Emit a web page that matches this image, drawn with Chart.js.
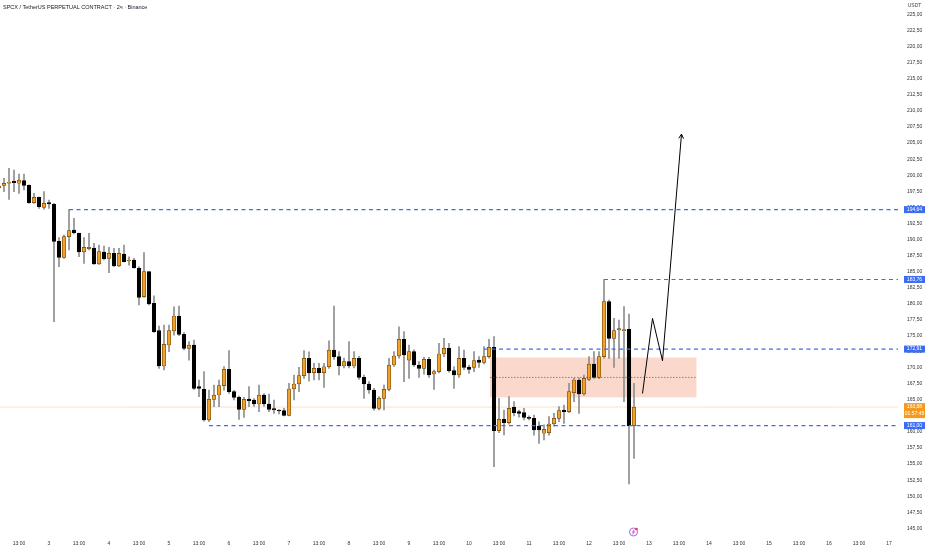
<!DOCTYPE html>
<html>
<head>
<meta charset="utf-8">
<script src="https://cdn.jsdelivr.net/npm/chart.js@4.4.1/dist/chart.umd.min.js"></script>
<style>
  html, body { margin: 0; padding: 0; background: #fff; }
</style>
</head>
<body>
<canvas id="chart" width="932" height="550"></canvas>
<script>
// 2h candles, index 0 = first (half hidden) candle on the left
const openP = [198.0, 198.42, 198.74, 199.05, 198.74, 199.15, 198.42, 195.72, 196.55, 194.99,
  195.72, 195.46, 189.7, 187.2, 190.43, 191.47, 190.95, 188.04, 188.56, 188.66,
  186.17, 188.04, 187.05, 187.83, 185.86, 187.73, 186.64, 186.79, 185.5, 181.08,
  184.98, 180.04, 175.79, 170.28, 173.55, 175.74, 178.07, 175.21, 173.03, 173.55,
  167.06, 166.65, 161.87, 165.09, 165.76, 167.22, 169.76, 166.28, 165.4, 163.53,
  165.14, 164.98, 164.36, 165.76, 164.36, 163.63, 163.43, 163.32, 162.6, 166.7,
  167.48, 168.77, 171.47, 169.24, 169.9, 169.24, 170.17, 172.77, 171.73, 170.28,
  170.95, 170.28, 171.47, 168.51, 167.48, 166.54, 163.69, 165.24, 166.65, 170.43,
  171.84, 174.43, 171.2, 172.51, 170.43, 169.9, 171.32, 169.03, 169.4, 172.15,
  173.03, 169.55, 168.88, 171.47, 170.07, 170.07, 171.21, 170.85, 171.73, 173.19,
  160.21, 161.97, 161.45, 163.84, 163.17, 163.02, 162.29, 162.13, 160.94, 159.8,
  159.9, 161.25, 162.13, 163.43, 163.17, 166.12, 168.1, 165.92, 168.2, 170.59,
  168.51, 171.73, 180.3, 174.59, 175.9, 175.8, 175.99, 160.99];
const highP = [198.8, 199.51, 201.07, 200.81, 200.19, 200.19, 198.5, 197.18, 196.6, 197.44,
  196.14, 195.62, 190.3, 190.69, 194.64, 193.28, 191.0, 190.3, 190.95, 189.39,
  189.13, 188.97, 188.77, 188.6, 188.6, 189.13, 187.3, 187.05, 185.76, 187.93,
  185.0, 181.2, 176.5, 176.67, 176.67, 179.5, 179.6, 175.5, 174.07, 174.3,
  168.1, 169.4, 166.54, 167.32, 168.1, 170.2, 172.67, 166.5, 165.6, 165.4,
  167.06, 165.2, 167.32, 166.0, 165.92, 164.98, 163.5, 163.7, 167.6, 168.88,
  170.07, 172.67, 172.5, 170.7, 170.7, 170.7, 174.2, 179.6, 172.51, 171.5,
  174.07, 172.51, 171.8, 168.88, 167.84, 166.8, 165.5, 167.32, 171.47, 172.51,
  176.4, 175.63, 173.55, 172.8, 170.95, 171.63, 171.63, 169.65, 173.8, 174.6,
  173.8, 170.17, 173.3, 172.77, 170.43, 172.51, 171.73, 173.3, 174.43, 174.85,
  165.24, 163.43, 165.5, 164.72, 163.43, 163.69, 162.5, 162.65, 161.6, 161.1,
  162.4, 162.9, 163.95, 164.2, 167.58, 168.36, 168.4, 168.88, 171.73, 172.51,
  172.51, 183.76, 180.56, 177.7, 177.45, 179.52, 178.38, 167.58];
const lowP = [197.6, 197.44, 196.24, 197.44, 197.18, 197.7, 195.6, 195.62, 194.84, 194.69,
  194.84, 177.19, 185.76, 187.05, 188.35, 190.9, 187.31, 186.27, 188.35, 186.1,
  186.1, 186.8, 184.82, 185.76, 185.76, 186.48, 186.0, 185.5, 179.8, 180.98,
  179.8, 175.5, 169.9, 169.66, 172.5, 175.1, 175.0, 172.8, 171.2, 166.6,
  165.5, 161.7, 161.6, 163.95, 163.95, 166.5, 166.0, 165.0, 161.97, 162.29,
  163.95, 164.0, 163.17, 164.0, 163.17, 162.9, 162.8, 162.5, 162.5, 164.98,
  166.28, 168.36, 167.9, 168.1, 168.1, 166.96, 169.9, 171.3, 168.88, 170.0,
  170.0, 170.0, 168.2, 165.24, 166.0, 163.4, 163.43, 163.43, 166.4, 170.2,
  171.5, 167.84, 168.36, 170.2, 168.51, 169.0, 168.5, 166.65, 169.2, 171.73,
  169.3, 166.8, 168.5, 169.7, 169.14, 169.4, 170.07, 170.6, 171.5, 154.6,
  159.9, 159.53, 161.2, 162.5, 162.3, 161.87, 161.9, 159.5, 158.24, 158.76,
  159.5, 160.9, 161.6, 161.35, 163.0, 164.72, 162.9, 165.7, 168.0, 168.3,
  168.3, 171.5, 171.47, 170.07, 171.47, 164.72, 151.9, 155.9];
const closeP = [198.3, 198.74, 198.94, 198.84, 199.25, 198.42, 195.72, 196.55, 195.1, 195.62,
  195.52, 189.7, 187.2, 190.43, 191.36, 191.05, 188.04, 188.77, 188.77, 186.17,
  188.09, 187.0, 187.83, 185.86, 187.83, 186.53, 186.79, 185.6, 180.98, 184.98,
  179.94, 175.63, 170.28, 173.66, 175.79, 178.07, 175.21, 173.03, 173.55, 166.8,
  166.8, 161.87, 165.09, 165.76, 167.22, 169.76, 166.28, 165.4, 163.53, 165.09,
  164.88, 164.36, 165.76, 164.36, 163.53, 163.43, 163.27, 162.6, 166.7, 167.48,
  168.77, 171.47, 169.2, 169.9, 169.24, 170.17, 172.77, 171.73, 170.28, 170.95,
  170.28, 171.47, 168.51, 167.48, 166.54, 163.69, 165.24, 166.65, 170.43, 171.84,
  174.43, 172.0, 172.51, 170.43, 169.9, 171.32, 168.88, 169.4, 172.15, 173.03,
  169.55, 168.88, 171.47, 170.07, 169.76, 171.11, 170.85, 171.73, 173.19, 160.21,
  161.97, 161.45, 163.69, 163.0, 162.9, 162.29, 162.13, 160.31, 160.31, 160.42,
  161.25, 162.13, 163.32, 163.17, 166.28, 168.1, 165.92, 168.36, 170.59, 168.51,
  171.73, 180.3, 174.59, 175.79, 176.1, 175.95, 160.99, 163.88];

// time axis: a day label every 12 candles, "13:00" half way between
const dayLabels = ['3', '4', '5', '6', '7', '8', '9', '10', '11', '12', '13', '14', '15', '16', '17'];
const hourLabel = '13:00';
const firstDayIndex = 10;

// drawn levels (price) and the candle they start from
const levels = [194.64, 183.76, 172.91, 161.00];
const levelFrom = [14, 121, 97, 42];

// zone box
const zoneFrom = 98.2, zoneTo = 139.5;
const zoneHigh = 171.6, zoneLow = 165.4;

// projected path
const pathX = [128.7, 130.7, 132.7, 136.5];
const pathY = [166.0, 177.7, 171.1, 206.4];

const lastPrice = 163.88;
const countdown = '01:57:45';
const title = 'SPCX / TetherUS PERPETUAL CONTRACT · 2ч · Binance';

const UP = '#f4a02c';
const DOWN = '#000000';
const LEVEL = '#3b6cf2';
const X_MIN = 0.2, X_MAX = 179.8;
const FONT = "'Liberation Sans', 'DejaVu Sans', sans-serif";

const fmt = (v) => v.toFixed(2).replace('.', ',');

const bodies = openP.map((o, i) => ({ x: i, y: [o, closeP[i]] }));
const wicks = lowP.map((l, i) => ({ x: i, y: [l, highP[i]] }));

const timeTicks = [];
for (let k = firstDayIndex - 6; k <= X_MAX; k += 6) timeTicks.push(k);

const levelSets = levels.map((lv, i) => ({
  type: 'line',
  data: [{ x: levelFrom[i], y: lv }, { x: X_MAX, y: lv }],
  borderColor: LEVEL,
  borderWidth: 1.1,
  borderDash: [4, 3.5],
  pointRadius: 0,
  order: 2
}));

const overlay = {
  id: 'overlay',
  beforeDatasetsDraw(chart) {
    const { ctx } = chart;
    const x = chart.scales.x, y = chart.scales.y;
    const x0 = x.getPixelForValue(zoneFrom), x1 = x.getPixelForValue(zoneTo);
    const y0 = y.getPixelForValue(zoneHigh), y1 = y.getPixelForValue(zoneLow);
    ctx.save();
    ctx.fillStyle = 'rgba(240,125,85,0.3)';
    ctx.fillRect(x0, y0, x1 - x0, y1 - y0);
    ctx.restore();
  },
  afterDatasetsDraw(chart) {
    const { ctx } = chart;
    const x = chart.scales.x, y = chart.scales.y;
    // dotted middle of the zone
    const x0 = x.getPixelForValue(zoneFrom), x1 = x.getPixelForValue(zoneTo);
    const ym = y.getPixelForValue((zoneHigh + zoneLow) / 2);
    ctx.save();
    ctx.strokeStyle = 'rgba(110,70,60,0.8)';
    ctx.lineWidth = 0.8;
    ctx.setLineDash([1.5, 1.5]);
    ctx.beginPath();
    ctx.moveTo(x0, ym);
    ctx.lineTo(x1, ym);
    ctx.stroke();
    ctx.setLineDash([]);
    // arrow head
    const n = pathX.length;
    const ax = x.getPixelForValue(pathX[n - 1]), ay = y.getPixelForValue(pathY[n - 1]);
    const bx = x.getPixelForValue(pathX[n - 2]), by = y.getPixelForValue(pathY[n - 2]);
    const ang = Math.atan2(ay - by, ax - bx);
    ctx.strokeStyle = '#000';
    ctx.lineWidth = 1;
    ctx.beginPath();
    ctx.moveTo(ax - 5 * Math.cos(ang - 0.5), ay - 5 * Math.sin(ang - 0.5));
    ctx.lineTo(ax, ay);
    ctx.lineTo(ax - 5 * Math.cos(ang + 0.5), ay - 5 * Math.sin(ang + 0.5));
    ctx.stroke();
    ctx.restore();
  },
  afterDraw(chart) {
    const { ctx, chartArea } = chart;
    const x = chart.scales.x, y = chart.scales.y;
    const bx = chartArea.right + 6, bw = 21;
    ctx.save();
    ctx.textBaseline = 'middle';
    // title
    ctx.font = '5.5px ' + FONT;
    ctx.fillStyle = '#131722';
    ctx.textAlign = 'left';
    ctx.fillText(title, 3, 7);
    // currency
    ctx.font = '5px ' + FONT;
    ctx.fillStyle = '#444';
    ctx.textAlign = 'center';
    ctx.fillText('USDT', bx + bw / 2, 6);
    // level tags
    levels.forEach((lv) => {
      const py = y.getPixelForValue(lv);
      ctx.fillStyle = LEVEL;
      ctx.fillRect(bx, py - 3.5, bw, 7);
      ctx.fillStyle = '#fff';
      ctx.fillText(fmt(lv), bx + bw / 2, py);
    });
    // last price tag
    const py = y.getPixelForValue(lastPrice);
    ctx.fillStyle = '#f59a1c';
    ctx.fillRect(bx, py - 4, bw, 15);
    ctx.fillStyle = '#fff';
    ctx.fillText(fmt(lastPrice), bx + bw / 2, py);
    ctx.fillText(countdown, bx + bw / 2, py + 6.5);
    // event marker on the time axis
    const ex = x.getPixelForValue(126.9), ey = chartArea.bottom - 4;
    ctx.strokeStyle = '#a03cc8';
    ctx.lineWidth = 0.8;
    ctx.beginPath();
    ctx.arc(ex, ey, 4, 0, Math.PI * 2);
    ctx.stroke();
    ctx.beginPath();
    ctx.moveTo(ex + 0.8, ey - 2.4);
    ctx.lineTo(ex - 1, ey + 0.3);
    ctx.lineTo(ex + 1, ey - 0.3);
    ctx.lineTo(ex - 0.8, ey + 2.4);
    ctx.stroke();
    ctx.fillStyle = '#f23645';
    ctx.beginPath();
    ctx.arc(ex + 3, ey - 3, 1.3, 0, Math.PI * 2);
    ctx.fill();
    ctx.restore();
  }
};

new Chart(document.getElementById('chart'), {
  type: 'bar',
  data: {
    datasets: [
      {
        type: 'line',
        data: [{ x: X_MIN, y: lastPrice }, { x: X_MAX, y: lastPrice }],
        borderColor: 'rgba(242,160,60,0.3)',
        borderWidth: 1,
        pointRadius: 0,
        order: 10
      },
      {
        data: wicks,
        backgroundColor: '#8e8e8e',
        barThickness: 1,
        grouped: false,
        order: 9
      },
      {
        data: bodies,
        backgroundColor: (c) => closeP[c.dataIndex] >= openP[c.dataIndex] ? UP : DOWN,
        borderColor: (c) => closeP[c.dataIndex] >= openP[c.dataIndex] ? '#6b4a10' : DOWN,
        borderWidth: 0.7,
        borderSkipped: false,
        barThickness: 3.6,
        minBarLength: 1,
        grouped: false,
        order: 8
      },
      ...levelSets,
      {
        type: 'line',
        data: pathX.map((v, i) => ({ x: v, y: pathY[i] })),
        borderColor: '#000',
        borderWidth: 1,
        pointRadius: 0,
        tension: 0,
        order: 1
      }
    ]
  },
  options: {
    responsive: false,
    animation: false,
    events: [],
    layout: { padding: 0 },
    plugins: { legend: { display: false }, tooltip: { enabled: false } },
    scales: {
      x: {
        type: 'linear',
        min: X_MIN,
        max: X_MAX,
        offset: false,
        grid: { display: false, drawTicks: false },
        border: { display: false },
        ticks: {
          autoSkip: false,
          maxRotation: 0,
          padding: 5,
          color: '#333',
          font: { size: 5, family: FONT },
          callback: (v) => {
            const k = Math.round(v) - firstDayIndex;
            return k % 12 === 0 ? dayLabels[k / 12] : hourLabel;
          }
        },
        afterBuildTicks: (s) => { s.ticks = timeTicks.map((v) => ({ value: v })); },
        afterFit: (s) => { s.height = 14; s.paddingLeft = 0; s.paddingRight = 0; }
      },
      y: {
        type: 'linear',
        position: 'right',
        min: 143.80,
        max: 227.29,
        grid: { display: false, drawTicks: false },
        border: { display: false },
        ticks: {
          stepSize: 2.5,
          includeBounds: false,
          autoSkip: false,
          crossAlign: 'center',
          padding: 9,
          color: '#333',
          font: { size: 5, family: FONT },
          callback: (v) => fmt(v)
        },
        afterFit: (s) => { s.width = 34; s.paddingTop = 0; s.paddingBottom = 0; }
      }
    }
  },
  plugins: [overlay]
});
</script>
</body>
</html>
